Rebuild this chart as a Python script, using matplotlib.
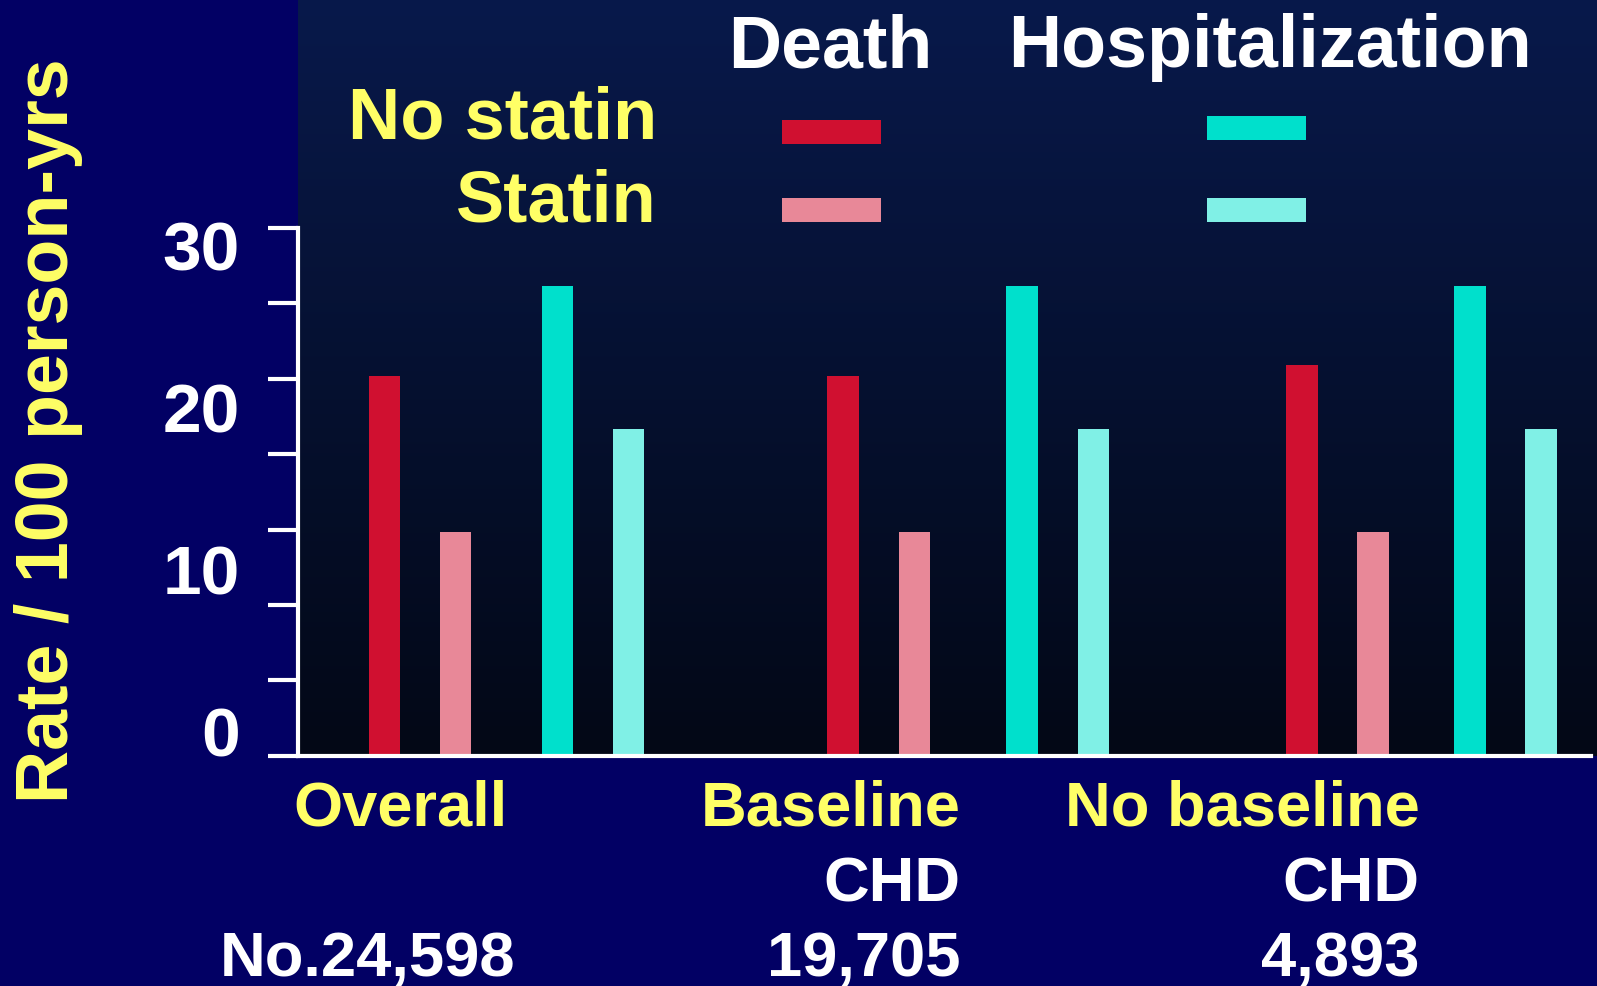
import numpy as np
import matplotlib
matplotlib.use("Agg")
import matplotlib.pyplot as plt
from matplotlib.colors import LinearSegmentedColormap
from matplotlib.patches import Rectangle
from matplotlib.transforms import blended_transform_factory

# ---- data -------------------------------------------------------------
groups = ["Overall", "Baseline", "No baseline"]
subgroups = ["", "CHD", "CHD"]
counts = ["No.24,598", "19,705", "4,893"]

death_no_statin = [21.6, 21.6, 22.2]
death_statin = [12.7, 12.7, 12.7]
hosp_no_statin = [26.7, 26.7, 26.7]
hosp_statin = [18.6, 18.6, 18.6]

y_ticks = [0, 10, 20, 30]
outcome_titles = ["Death", "Hospitalization"]
treatment_labels = ["No statin", "Statin"]

# ---- style ------------------------------------------------------------
W, H, DPI = 1597, 986, 100
NAVY = "#020064"
PANEL_TOP = "#08194b"
PANEL_BOTTOM = "#030816"
YELLOW = "#ffff66"
WHITE = "#ffffff"
C_DEATH_NO = "#d01030"
C_DEATH_ST = "#e88898"
C_HOSP_NO = "#00e0cc"
C_HOSP_ST = "#80f0e6"

plt.rcParams["font.family"] = ["Liberation Sans", "DejaVu Sans"]
plt.rcParams["font.weight"] = "bold"

fig = plt.figure(figsize=(W / DPI, H / DPI), dpi=DPI, facecolor=NAVY)


def fx(px):
    return px / W


def fy(py):
    return 1 - py / H


# main plotting area: gradient panel from the top edge down to the x axis
ax_left, ax_bottom = 298, 755.7
ax = fig.add_axes([fx(ax_left), fy(ax_bottom), 1 - fx(ax_left), 1 - fy(ax_bottom)])
ax.set_facecolor("none")

grad = np.linspace(0, 1, 256).reshape(-1, 1)
cmap = LinearSegmentedColormap.from_list("panel", [PANEL_TOP, PANEL_BOTTOM])
ax.imshow(grad, cmap=cmap, aspect="auto", extent=(0, 1, 0, 1),
          transform=ax.transAxes, zorder=0, interpolation="bicubic")

x = np.arange(len(groups))
bar_w = 0.069
# within-group placement of the four bars (death pair, then hospitalization pair)
death_offsets = [0.0, 0.155]
hosp_offsets = [0.379, 0.534]
hosp_group_shift = np.array([-0.002, 0.011, -0.013])

ax.bar(x + death_offsets[0], death_no_statin, width=bar_w, color=C_DEATH_NO,
       zorder=2, linewidth=0)
ax.bar(x + death_offsets[1], death_statin, width=bar_w, color=C_DEATH_ST,
       zorder=2, linewidth=0)
ax.bar(x + hosp_group_shift + hosp_offsets[0], hosp_no_statin, width=bar_w,
       color=C_HOSP_NO, zorder=2, linewidth=0)
ax.bar(x + hosp_group_shift + hosp_offsets[1], hosp_statin, width=bar_w,
       color=C_HOSP_ST, zorder=2, linewidth=0)

ax.set_xlim(-0.1885, 2.6427)
ax.set_ylim(0, 42.97)

for side in ("top", "right"):
    ax.spines[side].set_visible(False)
for side in ("left", "bottom"):
    ax.spines[side].set_color(WHITE)
    ax.spines[side].set_linewidth(3)
    ax.spines[side].set_zorder(3)
ax.spines["left"].set_bounds(0, 30)
ax.spines["bottom"].set_bounds(-0.1885, 2.6295)

ax.set_xticks([])
ax.set_yticks(np.linspace(0, 30, 8))
ax.set_yticklabels([])
ax.tick_params(axis="y", direction="out", length=21.5, width=3, color=WHITE)

# numeric labels for the y axis on their own overlay scale
ax_lab = fig.add_axes(ax.get_position())
ax_lab.set_facecolor("none")
for s in ax_lab.spines.values():
    s.set_visible(False)
ax_lab.set_xticks([])
ax_lab.set_ylim(-1.507, 45.16)
ax_lab.set_yticks(y_ticks)
ax_lab.set_yticklabels([str(v) for v in y_ticks])
ax_lab.tick_params(axis="y", length=0, pad=42, labelsize=50, labelcolor=WHITE)
for t in ax_lab.get_yticklabels():
    t.set_fontweight("bold")

# y axis title
fig.text(fx(49), fy(431), "Rate / 100 person-yrs", rotation=90, color=YELLOW,
         fontsize=53, fontweight="bold", ha="center", va="center")

# group labels below the axis
tr = blended_transform_factory(ax.transData, fig.transFigure)
label_off = [0.268, 0.256, 0.256]
count_off = [0.286, 0.256, 0.256]
for i, (g, sg, n) in enumerate(zip(groups, subgroups, counts)):
    ax.text(x[i] + label_off[i], fy(825), g, transform=tr, ha="right",
            va="baseline", color=YELLOW, fontsize=45.5, fontweight="bold",
            clip_on=False)
    if sg:
        ax.text(x[i] + label_off[i], fy(901), sg, transform=tr, ha="right",
                va="baseline", color=WHITE, fontsize=45.5, fontweight="bold",
                clip_on=False)
    ax.text(x[i] + count_off[i], fy(976), n, transform=tr, ha="right",
            va="baseline", color=WHITE, fontsize=45.5, fontweight="bold",
            clip_on=False)

# legend: outcome columns, treatment rows
for title, cx in zip(outcome_titles, [830, 1270]):
    fig.text(fx(cx), fy(67), title, color=WHITE, fontsize=53, fontweight="bold",
             ha="center", va="baseline")
row_baselines = [138.5, 222]
for lab, by in zip(treatment_labels, row_baselines):
    fig.text(fx(657), fy(by), lab, color=YELLOW, fontsize=52, fontweight="bold",
             ha="right", va="baseline")

sw_w, sw_h = 99, 24
swatches = [
    (782, 120, C_DEATH_NO), (782, 198, C_DEATH_ST),
    (1207, 116, C_HOSP_NO), (1207, 198, C_HOSP_ST),
]
for sx, sy, col in swatches:
    fig.patches.append(Rectangle((fx(sx), fy(sy + sw_h)), sw_w / W, sw_h / H,
                                 transform=fig.transFigure, facecolor=col,
                                 edgecolor="none", zorder=5))

fig.savefig("out.png", dpi=DPI, facecolor=NAVY)
